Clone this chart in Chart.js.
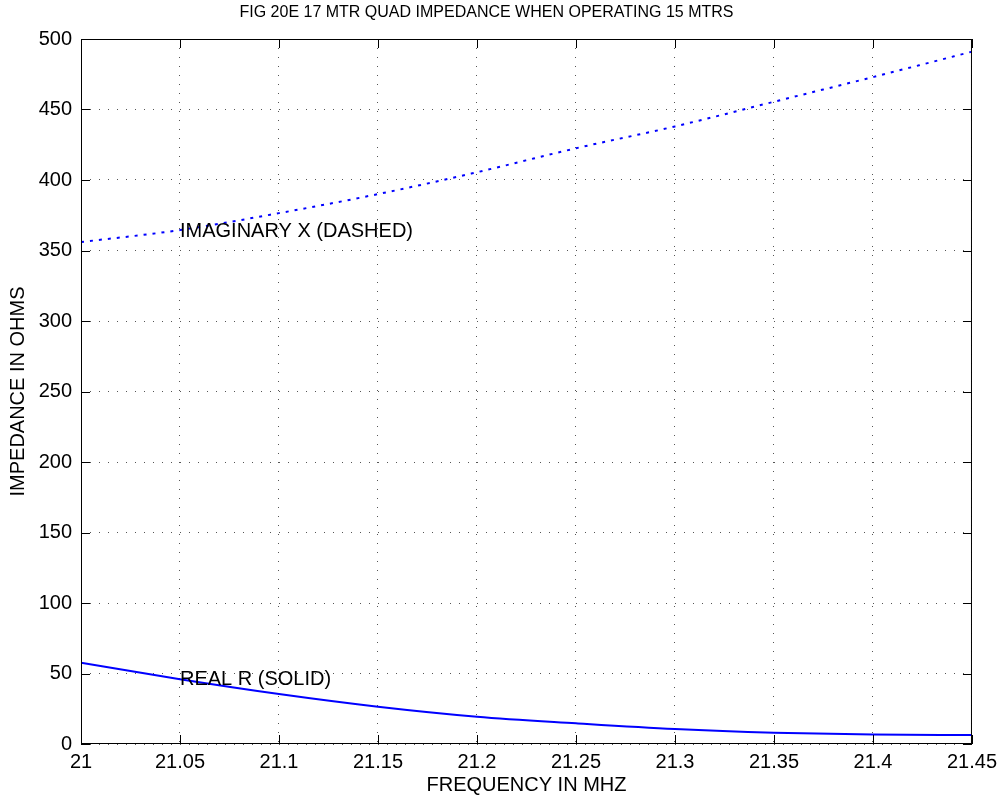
<!DOCTYPE html>
<html>
<head>
<meta charset="utf-8">
<script src="https://cdn.jsdelivr.net/npm/chart.js@4/dist/chart.umd.min.js"></script>
<style>
  html, body { margin: 0; padding: 0; background: #fff; }
  #wrap { width: 1003px; height: 799px; }
</style>
</head>
<body>
<div id="wrap"><canvas id="grafico"></canvas></div>
<script>
// dados
const freqs = [21, 21.05, 21.1, 21.15, 21.2, 21.25, 21.3, 21.35, 21.4, 21.45];
const realR = [57.7, 46, 35.5, 26.5, 19.4, 14.7, 10.6, 8.0, 6.7, 6.4];
const imagX = [356, 364.5, 376.5, 390, 405.5, 422.5, 438, 455.5, 473, 491];

const xTicks = [21, 21.05, 21.1, 21.15, 21.2, 21.25, 21.3, 21.35, 21.4, 21.45];
const xTickLabels = ["21", "21.05", "21.1", "21.15", "21.2", "21.25", "21.3", "21.35", "21.4", "21.45"];
const yTicks = [0, 50, 100, 150, 200, 250, 300, 350, 400, 450, 500];

const notas = [
    { texto: "IMAGINARY X (DASHED)", x: 21.05, y: 363.5 },
    { texto: "REAL R (SOLID)", x: 21.05, y: 45.5 }
];

const FONTE = "'Liberation Sans', Arial, Helvetica, sans-serif";
const azul = "#0000ff";

// caixa preta + marcas de escala para dentro (estilo matlab) + textos
const moldura = {
    id: "moldura",
    afterDatasetsDraw(chart) {
        const { ctx, chartArea: a, scales } = chart;
        ctx.save();
        ctx.strokeStyle = "#000";
        ctx.lineWidth = 1;
        ctx.strokeRect(a.left + 0.5, a.top + 0.5, a.right - a.left - 1, a.bottom - a.top - 1);
        const tam = 9;
        ctx.beginPath();
        xTicks.forEach(v => {
            const px = Math.round(scales.x.getPixelForValue(v)) + 0.5;
            ctx.moveTo(px, a.bottom); ctx.lineTo(px, a.bottom - tam);
            ctx.moveTo(px, a.top); ctx.lineTo(px, a.top + tam);
        });
        yTicks.forEach(v => {
            const py = Math.round(scales.y.getPixelForValue(v)) + 0.5;
            ctx.moveTo(a.left, py); ctx.lineTo(a.left + tam, py);
            ctx.moveTo(a.right, py); ctx.lineTo(a.right - tam, py);
        });
        ctx.stroke();

        ctx.fillStyle = "#000";
        ctx.font = "20px " + FONTE;
        ctx.textAlign = "left";
        ctx.textBaseline = "middle";
        notas.forEach(n => {
            ctx.fillText(n.texto, scales.x.getPixelForValue(n.x), scales.y.getPixelForValue(n.y));
        });
        ctx.restore();
    }
};

new Chart(document.getElementById("grafico"), {
    type: "line",
    data: {
        datasets: [
            {
                label: "Real R",
                data: freqs.map((f, i) => ({ x: f, y: realR[i] })),
                borderColor: azul,
                borderWidth: 2,
                pointRadius: 0,
                cubicInterpolationMode: "monotone"
            },
            {
                label: "Imaginary X",
                data: freqs.map((f, i) => ({ x: f, y: imagX[i] })),
                borderColor: azul,
                borderWidth: 2,
                borderDash: [3, 6],
                pointRadius: 0,
                cubicInterpolationMode: "monotone"
            }
        ]
    },
    options: {
        responsive: true,
        maintainAspectRatio: false,
        animation: false,
        layout: { padding: { top: 3, right: 30, bottom: 2, left: 0 } },
        plugins: {
            legend: { display: false },
            tooltip: { enabled: false },
            title: {
                display: true,
                text: "FIG 20E 17 MTR QUAD IMPEDANCE WHEN OPERATING 15 MTRS",
                color: "#000",
                font: { family: FONTE, size: 16, weight: "normal", lineHeight: 1.2 },
                padding: { top: 0, bottom: 16.8 }
            }
        },
        scales: {
            x: {
                type: "linear",
                min: 21,
                max: 21.45,
                afterBuildTicks: s => { s.ticks = xTicks.map(v => ({ value: v })); },
                afterFit: s => { s.height = 53; },
                ticks: {
                    color: "#000",
                    font: { family: FONTE, size: 20 },
                    padding: 6,
                    maxRotation: 0,
                    autoSkip: false,
                    callback: (v, i) => xTickLabels[i]
                },
                grid: { color: "#555", lineWidth: 1, drawTicks: false },
                border: { display: false, dash: [1, 8] },
                title: {
                    display: true,
                    text: "FREQUENCY IN MHZ",
                    color: "#000",
                    font: { family: FONTE, size: 20, lineHeight: 1.1 },
                    padding: { top: 0, bottom: 1 }
                }
            },
            y: {
                min: 0,
                max: 500,
                afterBuildTicks: s => { s.ticks = yTicks.map(v => ({ value: v })); },
                afterFit: s => { s.width = 81; },
                ticks: {
                    color: "#000",
                    font: { family: FONTE, size: 20 },
                    padding: 9,
                    autoSkip: false
                },
                grid: { color: "#555", lineWidth: 1, drawTicks: false },
                border: { display: false, dash: [1, 8] },
                title: {
                    display: true,
                    text: "IMPEDANCE IN OHMS",
                    color: "#000",
                    font: { family: FONTE, size: 20, lineHeight: 1.1 },
                    padding: { top: 7, bottom: 0 }
                }
            }
        }
    },
    plugins: [moldura]
});
</script>
</body>
</html>
